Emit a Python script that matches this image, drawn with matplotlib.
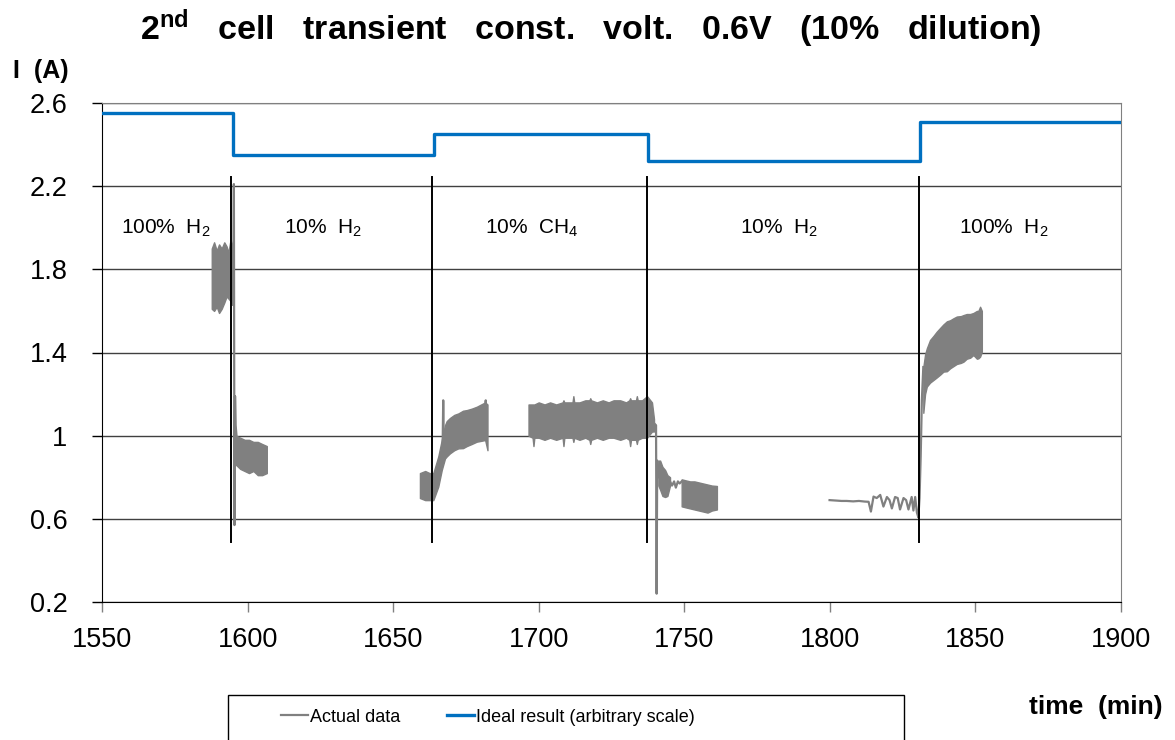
import numpy as np
import matplotlib
matplotlib.use("Agg")
import matplotlib.pyplot as plt
from matplotlib.lines import Line2D
from matplotlib.patches import Rectangle

plt.rcParams['font.family'] = ['Liberation Sans', 'DejaVu Sans']
plt.rcParams['mathtext.fontset'] = 'custom'
plt.rcParams['mathtext.rm'] = 'Liberation Sans'
plt.rcParams['mathtext.it'] = 'Liberation Sans'
plt.rcParams['mathtext.bf'] = 'Liberation Sans:bold'

# ideal response (arbitrary scale), step changes at each gas switch
ideal_t = [1550, 1595, 1664, 1737.6, 1831, 1900]
ideal_i = [2.55, 2.35, 2.45, 2.32, 2.51, 2.51]

# gas switch times and labels
switch_t = [1594.3, 1663.4, 1737.2, 1830.7]
gas_labels = ['100%  H$_2$', '10%  H$_2$', '10%  CH$_4$', '10%  H$_2$', '100%  H$_2$']
gas_label_t = [1572.0, 1625.9, 1697.6, 1782.6, 1859.9]

# measured current: noisy stretches given as upper / lower envelope
a_t = [1587.7, 1588.5, 1589.4, 1590.2, 1591.1, 1592.0, 1592.8, 1593.4, 1594.0, 1594.6, 1595.1]
a_hi = [1.90, 1.93, 1.89, 1.92, 1.90, 1.93, 1.91, 1.88, 1.93, 1.92, 1.94]
a_lo = [1.61, 1.60, 1.62, 1.59, 1.61, 1.64, 1.67, 1.66, 1.65, 1.63, 1.63]

b_t = [1596.0, 1597.5, 1599.0, 1600.5, 1602.0, 1603.5, 1605.0, 1606.6]
b_hi = [1.00, 0.99, 0.98, 0.98, 0.97, 0.97, 0.96, 0.95]
b_lo = [0.86, 0.84, 0.83, 0.82, 0.83, 0.81, 0.81, 0.82]

c_t = [1659.2, 1661.0, 1662.5, 1663.8, 1665.5, 1666.7, 1667.8, 1668.4, 1669.5, 1671.0,
       1672.4, 1674.0, 1675.3, 1677.0, 1678.7, 1680.2, 1681.6, 1682.4]
c_hi = [0.82, 0.83, 0.82, 0.82, 0.90, 0.98, 1.05, 1.07, 1.085, 1.10,
        1.107, 1.12, 1.123, 1.13, 1.139, 1.15, 1.16, 1.15]
c_lo = [0.70, 0.69, 0.69, 0.69, 0.755, 0.835, 0.89, 0.90, 0.915, 0.93,
        0.939, 0.94, 0.950, 0.96, 0.971, 0.975, 0.979, 0.93]

d_t = [1696.5, 1697.9, 1698.2, 1698.5, 1700.0, 1702.0, 1703.9, 1706.0, 1708.2, 1708.5, 1708.8,
       1710.0, 1711.6, 1711.9, 1712.2, 1714.0, 1716.0, 1717.4, 1717.7, 1718.0, 1720.0, 1722.0,
       1724.0, 1725.7, 1728.0, 1730.0, 1731.1, 1731.4, 1731.7, 1733.4, 1733.7, 1734.0,
       1735.5, 1737.2, 1738.9, 1739.6]
d_hi = [1.15, 1.15, 1.15, 1.15, 1.16, 1.15, 1.16, 1.15, 1.16, 1.17, 1.16,
        1.16, 1.16, 1.19, 1.16, 1.16, 1.17, 1.17, 1.18, 1.17, 1.16, 1.17,
        1.16, 1.17, 1.17, 1.16, 1.17, 1.18, 1.17, 1.17, 1.19, 1.17,
        1.17, 1.19, 1.16, 1.08]
d_lo = [1.00, 0.99, 0.95, 0.99, 0.99, 0.98, 0.99, 0.98, 0.99, 0.95, 0.99,
        0.99, 0.99, 0.97, 0.99, 0.98, 0.99, 0.98, 0.96, 0.98, 0.99, 0.98,
        0.99, 0.99, 0.98, 0.99, 0.98, 0.95, 0.98, 0.98, 0.96, 0.98,
        0.99, 0.99, 1.02, 1.02]

e0_t = [1741.1, 1741.7, 1742.5, 1743.4, 1744.2, 1745.1]
e0_hi = [0.88, 0.88, 0.85, 0.835, 0.81, 0.80]
e0_lo = [0.76, 0.74, 0.71, 0.705, 0.71, 0.76]

e_t = [1749.1, 1750.5, 1752.0, 1753.5, 1755.0, 1756.5, 1758.0, 1759.5, 1761.2]
e_hi = [0.79, 0.785, 0.78, 0.78, 0.775, 0.77, 0.765, 0.76, 0.758]
e_lo = [0.66, 0.655, 0.65, 0.645, 0.64, 0.635, 0.63, 0.64, 0.645]

g_t = [1832.1, 1832.7, 1833.3, 1834.4, 1835.6, 1836.7, 1838.0, 1839.0, 1840.2, 1841.3,
       1842.5, 1843.6, 1845.0, 1845.9, 1847.0, 1848.2, 1849.3, 1850.5, 1851.0, 1851.6, 1852.2]
g_hi = [1.33, 1.39, 1.42, 1.46, 1.48, 1.50, 1.52, 1.535, 1.55, 1.555,
        1.565, 1.573, 1.575, 1.58, 1.585, 1.585, 1.59, 1.60, 1.60, 1.62, 1.60]
g_lo = [1.11, 1.20, 1.236, 1.255, 1.268, 1.28, 1.295, 1.308, 1.31, 1.324,
        1.335, 1.345, 1.35, 1.356, 1.37, 1.375, 1.388, 1.37, 1.372, 1.38, 1.404]

# single-trace stretches and spikes (nan breaks the line)
trace_t = [1595.1, 1595.3, 1595.5, 1595.7, 1595.9, 1596.2, np.nan,
           1667.0, 1667.2, 1667.4, np.nan,
           1681.6, 1681.8, 1682.0, np.nan,
           1739.6, 1740.3, 1740.5, 1740.7, 1741.1, np.nan,
           1745.1, 1745.8, 1746.5, 1747.1, 1747.8, 1748.4, 1749.1, np.nan,
           1799.9, 1802.0, 1804.0, 1805.8, 1808.0, 1810.0, 1812.0, 1813.3, 1814.1, 1815.0,
           1816.1, 1817.3, 1818.4, 1819.6, 1820.5, 1821.3, 1822.4, 1823.3, 1824.1, 1825.3,
           1826.2, 1827.0, 1828.1, 1828.7, 1829.3, 1829.9, 1830.4, 1830.8, 1831.2, 1831.6, 1832.1]
trace_i = [1.63, 2.21, 0.57, 1.19, 1.05, 1.00, np.nan,
           0.95, 1.17, 0.95, np.nan,
           1.00, 1.17, 1.00, np.nan,
           1.06, 1.05, 0.24, 0.88, 0.80, np.nan,
           0.78, 0.76, 0.78, 0.75, 0.78, 0.77, 0.78, np.nan,
           0.690, 0.688, 0.686, 0.686, 0.684, 0.686, 0.683, 0.682, 0.635, 0.707,
           0.700, 0.715, 0.659, 0.705, 0.690, 0.650, 0.705, 0.700, 0.645, 0.700,
           0.690, 0.645, 0.705, 0.640, 0.705, 0.630, 0.607, 0.700, 0.90, 1.17, 1.33]

bands = [(a_t, a_hi, a_lo), (b_t, b_hi, b_lo), (c_t, c_hi, c_lo), (d_t, d_hi, d_lo),
         (e0_t, e0_hi, e0_lo), (e_t, e_hi, e_lo), (g_t, g_hi, g_lo)]

gray = '#808080'
blue = '#0070C0'

fig = plt.figure(figsize=(11.75, 7.4), dpi=100)
ax = fig.add_axes([102 / 1175, 138 / 740, 1019 / 1175, 499 / 740])

for t, hi, lo in bands:
    ax.fill_between(t, lo, hi, color=gray, lw=1.0, zorder=3)
ax.plot(trace_t, trace_i, color=gray, lw=1.6, zorder=3)

for t in switch_t:
    ax.plot([t, t], [0.49, 2.245], color='black', lw=1.4, zorder=4)

ax.plot(ideal_t, ideal_i, color=blue, lw=2.4, drawstyle='steps-post', zorder=5)

for t, lab in zip(gas_label_t, gas_labels):
    ax.text(t, 1.995, lab, ha='center', va='center', fontsize=15, zorder=6)

ax.set_xlim(1550, 1900)
ax.set_ylim(0.2, 2.6)
ax.set_xticks(np.arange(1550, 1901, 50))
ax.set_yticks([0.2, 0.6, 1.0, 1.4, 1.8, 2.2, 2.6])
ax.set_yticklabels(['0.2', '0.6', '1', '1.4', '1.8', '2.2', '2.6'])
ax.tick_params(axis='y', direction='out', length=7, width=1, color='black', pad=18, labelsize=19.5)
ax.tick_params(axis='x', direction='out', length=7, width=1, color=gray, pad=11, labelsize=19.5)
ax.yaxis.grid(True, color='#404040', lw=1)
ax.set_axisbelow(True)
ax.spines['left'].set_color('black')
ax.spines['bottom'].set_color('black')
ax.spines['top'].set_color(gray)
ax.spines['right'].set_color(gray)

fig.text(591 / 1175, 1 - 40 / 740,
         r'2$^{\mathbf{nd}}$   cell   transient   const.   volt.   0.6V   (10%   dilution)',
         ha='center', va='baseline', fontsize=24.5, fontweight='bold')
fig.text(13 / 1175, 1 - 78 / 740, 'I  (A)', ha='left', va='baseline', fontsize=18, fontweight='bold')
fig.text(1163 / 1175, 1 - 714 / 740, 'time  (min)', ha='right', va='baseline', fontsize=19, fontweight='bold')

# legend box runs off the bottom edge
fig.patches.append(Rectangle((228 / 1175, -0.05), 676 / 1175, 0.05 + 45 / 740,
                             transform=fig.transFigure, fill=False, edgecolor='black', lw=1))
handles = [Line2D([], [], color=gray, lw=1.6), Line2D([], [], color=blue, lw=2.4)]
fig.legend(handles, ['Actual data', 'Ideal result (arbitrary scale)'], loc='center left',
           bbox_to_anchor=(265 / 1175, 1 - 717 / 740), ncol=2, frameon=False, fontsize=13,
           handlelength=1.5, handletextpad=0.1, columnspacing=2.6)

fig.savefig('out.png', dpi=100)
